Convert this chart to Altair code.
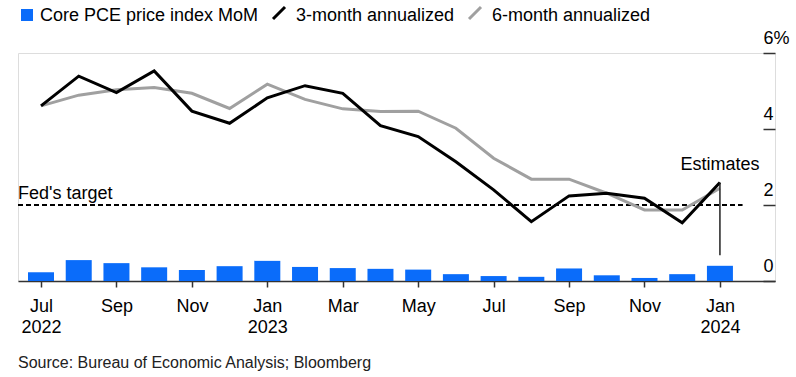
import altair as alt
import pandas as pd

# ---- data ----
month_index = list(range(19))  # Jul 2022 .. Jan 2024
core_pce_mom = [0.23, 0.55, 0.47, 0.36, 0.29, 0.39, 0.53, 0.37, 0.34, 0.32,
                0.30, 0.18, 0.13, 0.11, 0.33, 0.15, 0.08, 0.18, 0.40]
three_month = [4.61, 5.39, 4.96, 5.53, 4.47, 4.15, 4.82, 5.14, 4.94, 4.09,
               3.80, 3.14, 2.40, 1.56, 2.24, 2.31, 2.18, 1.53, 2.59]
six_month = [4.61, 4.89, 5.03, 5.09, 4.94, 4.54, 5.18, 4.78, 4.53, 4.46,
             4.47, 4.02, 3.23, 2.68, 2.68, 2.31, 1.87, 1.87, 2.44]

tick_index = [0, 2, 4, 6, 8, 10, 12, 14, 16, 18]
tick_months = ["Jul", "Sep", "Nov", "Jan", "Mar", "May", "Jul", "Sep", "Nov", "Jan"]
tick_years = ["2022", "", "", "2023", "", "", "", "", "", "2024"]
y_ticks = [0, 2, 4, 6]

fed_target = 2.0
estimate_index = 18
estimate_rule_low = 0.68

S_BAR = "Core PCE price index MoM"
S_3M = "3-month annualized"
S_6M = "6-month annualized"
SOURCE = "Source: Bureau of Economic Analysis; Bloomberg"

BLUE = "#0a6cfa"
GRAY = "#a0a0a0"
FONT = "Liberation Sans"

# ---- tables ----
bars_df = pd.DataFrame({"idx": month_index, "value": core_pce_mom})
l3_df = pd.DataFrame({"idx": month_index, "value": three_month})
l6_df = pd.DataFrame({"idx": month_index, "value": six_month})

x_min, x_max = -0.61, 19.46
target_df = pd.DataFrame({"idx": [x_min], "idx2": [18.6], "value": [fed_target],
                          "label": ["Fed's target"]})
est_df = pd.DataFrame({"idx": [estimate_index], "value": [three_month[estimate_index]],
                       "value2": [estimate_rule_low], "label": ["Estimates"]})
src_df = pd.DataFrame({"label": [SOURCE]})

# ---- scales / axes ----
parts = []
for i, m, yv in zip(tick_index, tick_months, tick_years):
    lab = f"['{m}','{yv}']" if yv else f"'{m}'"
    parts.append(f"datum.value == {i} ? {lab} : ")
label_expr = "".join(parts) + "''"

x_scale = alt.Scale(domain=[x_min, x_max], nice=False, zero=False, padding=0)
y_scale = alt.Scale(domain=[0, 6], nice=False, zero=True, padding=0)

x_axis = alt.Axis(values=tick_index, labelExpr=label_expr, grid=False,
                  domain=True, domainColor="#333", domainWidth=1.5,
                  ticks=True, tickSize=6, tickColor="#333", tickWidth=1.5,
                  labelFontSize=18, labelColor="#000", labelBaseline="top",
                  labelPadding=10, labelLineHeight=21, labelFont=FONT,
                  labelAlign="center", labelFlush=False, labelOverlap=False)
y_axis = alt.Axis(orient="right", values=y_ticks, grid=False, domain=False,
                  offset=-12, tickSize=12, tickColor="#333", tickWidth=1.5,
                  labelAlign="left", labelPadding=-12, labelBaseline="alphabetic",
                  labelOffset=-10, labelFontSize=18, labelColor="#000", labelFont=FONT,
                  labelExpr="datum.value == 6 ? '6%' : datum.label")

X = alt.X("idx:Q", scale=x_scale, axis=x_axis, title=None)
Y = alt.Y("value:Q", scale=y_scale, axis=y_axis, title=None)

# ---- data layers ----
bars = alt.Chart(bars_df).mark_bar(size=26, color=BLUE).encode(x=X, y=Y)
line6 = alt.Chart(l6_df).mark_line(strokeWidth=3, color=GRAY).encode(x=X, y=Y)
line3 = alt.Chart(l3_df).mark_line(strokeWidth=3, color="#000").encode(x=X, y=Y)

target_rule = alt.Chart(target_df).mark_rule(
    strokeDash=[5, 3], strokeWidth=2, color="#000"
).encode(x=X, x2="idx2:Q", y=Y)
target_text = alt.Chart(target_df).mark_text(
    align="left", baseline="alphabetic", dy=-6, fontSize=18, font=FONT, color="#000"
).encode(x=X, y=Y, text="label:N")

est_rule = alt.Chart(est_df).mark_rule(strokeWidth=1.5, color="#222").encode(
    x=X, y=Y, y2="value2:Q"
)
est_text = alt.Chart(est_df).mark_text(
    align="center", baseline="alphabetic", dy=-13, fontSize=18, font=FONT, color="#000"
).encode(x=X, y=Y, text="label:N")

# ---- legend (drawn as annotations above the plot) ----
leg_text_df = pd.DataFrame({"label": [S_BAR, S_3M, S_6M], "px": [22, 278, 474]})
leg_text = alt.Chart(leg_text_df).mark_text(
    align="left", baseline="alphabetic", fontSize=18, font=FONT, color="#000"
).encode(x=alt.X("px:Q", scale=None), y=alt.value(-32.5), text="label:N")

leg_square = alt.Chart(pd.DataFrame({"label": [S_BAR]})).mark_square(
    size=144, color=BLUE, opacity=1
).encode(x=alt.value(9), y=alt.value(-38))

leg_slash3 = alt.Chart(pd.DataFrame({"label": [S_3M]})).mark_rule(
    strokeWidth=3, color="#000"
).encode(x=alt.value(255), x2=alt.value(267), y=alt.value(-34), y2=alt.value(-46))
leg_slash6 = alt.Chart(pd.DataFrame({"label": [S_6M]})).mark_rule(
    strokeWidth=3, color=GRAY
).encode(x=alt.value(451), x2=alt.value(463), y=alt.value(-34), y2=alt.value(-46))

source_text = alt.Chart(src_df).mark_text(
    align="left", baseline="middle", fontSize=16, font=FONT, color="#222"
).encode(x=alt.value(0), y=alt.value(310), text="label:N")

chart = alt.layer(
    bars, target_rule, target_text, line6, line3, est_rule, est_text,
    leg_square, leg_slash3, leg_slash6, leg_text, source_text
).properties(
    width=757, height=228,
    padding={"left": 18, "top": 53, "right": 21, "bottom": 96},
    autosize=alt.AutoSizeParams(type="none"),
).configure_view(strokeWidth=0).configure(font=FONT)

chart.save("out.html", embed_options={"renderer": "svg", "actions": False})
